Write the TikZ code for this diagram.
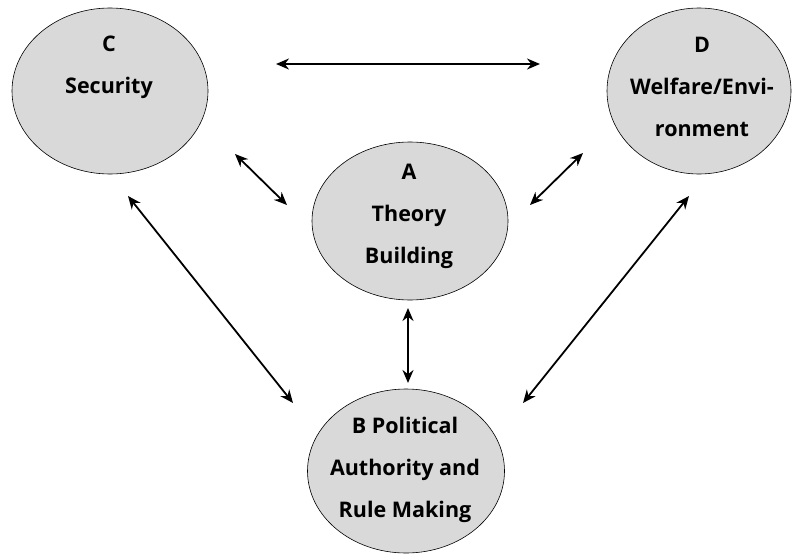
\documentclass[tikz,border=0pt]{standalone}
\usepackage{fontspec}
\setmainfont{Open Sans}
\usetikzlibrary{shapes.geometric,arrows.meta}
\definecolor{bubblegray}{gray}{0.85}
\tikzstyle{bubble} = [ellipse, draw=black, fill=bubblegray, line width=.6pt, inner sep=0pt]
\tikzstyle{txt} = [align=center, inner sep=0pt, font=\fontsize{21.5}{42}\selectfont\bfseries]
\tikzstyle{link} = [{Stealth[length=13pt,width=11pt]}-{Stealth[length=13pt,width=11pt]}, line width=1.8pt]

\begin{document}
\begin{tikzpicture}[x=1pt,y=-1pt]
	\useasboundingbox (0,0) rectangle (792,554);
	% the four ellipses
	\node [bubble, minimum width=196pt, minimum height=166pt] (C) at (110,91) {};
	\node [bubble, minimum width=184pt, minimum height=166pt] (D) at (699,91) {};
	\node [bubble, minimum width=196pt, minimum height=158pt] (A) at (410,221) {};
	\node [bubble, minimum width=197pt, minimum height=164pt] (B) at (406,471) {};
	\node [txt] (Ctxt) at (109,67) {C\\Security};
	\node [txt] (Dtxt) at (702,87) {D\\Welfare/Envi-\\ronment};
	\node [txt] (Atxt) at (409,216) {A\\Theory\\Building};
	\node [txt] (Btxt) at (405,470) {B Political\\Authority and\\Rule Making};
	% arrow ends
	\coordinate (cd1) at (276,64);  \coordinate (cd2) at (540,64);
	\coordinate (ca1) at (235,154); \coordinate (ca2) at (287,205);
	\coordinate (ad1) at (530,205); \coordinate (ad2) at (583,153);
	\coordinate (cb1) at (128,196); \coordinate (cb2) at (293,403);
	\coordinate (db1) at (689,196); \coordinate (db2) at (523,403);
	\coordinate (ab1) at (408,308); \coordinate (ab2) at (408,383);
	\draw [link] (cd1) -- (cd2);
	\draw [link] (ca1) -- (ca2);
	\draw [link] (ad1) -- (ad2);
	\draw [link] (cb1) -- (cb2);
	\draw [link] (db1) -- (db2);
	\draw [link] (ab1) -- (ab2);
\end{tikzpicture}
\end{document}
